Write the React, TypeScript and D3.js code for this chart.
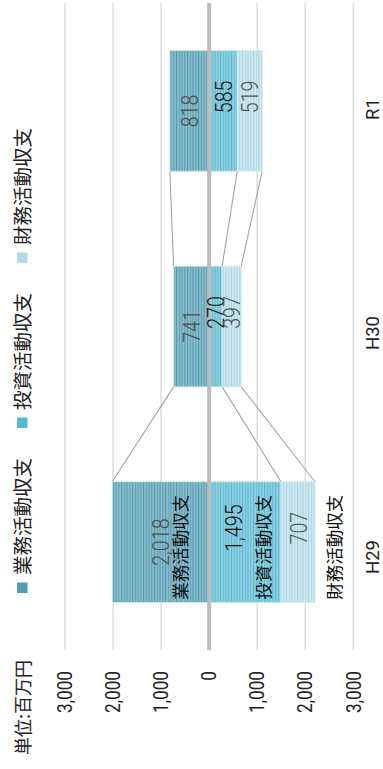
import React from "react";
import * as d3 from "d3";

const categories = ["H29", "H30", "R1"];
const operating = [2018, 741, 818];
const investing = [1495, 270, 585];
const financing = [707, 397, 519];
const seriesNames = ["業務活動収支", "投資活動収支", "財務活動収支"];
const tickValues = [-3000, -2000, -1000, 0, 1000, 2000, 3000];
const unitLabel = "単位:百万円";

const W = 769; // original (unrotated) width

const palette = [
  { base: "#74b3c6", dark: "#5797ad", light: "#98c9d6", legend: "#4f9db6" },
  { base: "#7ac9dc", dark: "#5ab8d0", light: "#a2d9e6", legend: "#55bbd5" },
  { base: "#c4e3ec", dark: "#a6d2e0", light: "#def1f6", legend: "#b3dae6" },
];

const numFont = "Roboto, 'Liberation Sans', sans-serif";
const jpFont = "'Noto Sans CJK JP', 'Noto Sans', sans-serif";
const fmt = d3.format(",");

export default function App() {
  const x = d3
    .scaleBand<string>()
    .domain(categories)
    .range([119, 766])
    .paddingInner(0.44)
    .paddingOuter(0.22);
  const catPos = d3.scalePoint<string>().domain(categories).range([212, 660]);
  const y = d3.scaleLinear().domain([-3000, 3000]).range([353.3, 65]);
  const bw = x.bandwidth();

  const stacks = categories.map((c, i) => {
    const inv = investing[i];
    const fin = financing[i];
    return [
      { y0: 0, y1: operating[i], v: operating[i] },
      { y0: 0, y1: -inv, v: inv },
      { y0: -inv, y1: -inv - fin, v: fin },
    ];
  });

  const valueColors = ["#4d4d4d", "#111", "#555"];

  return (
    <svg
      width={383}
      height={769}
      style={{ position: "absolute", left: 0, top: 0, background: "#fff" }}
    >
      <defs>
        {palette.map((p, i) => (
          <pattern
            key={i}
            id={`stripe${i}`}
            patternUnits="userSpaceOnUse"
            width={10}
            height={5.5}
          >
            <rect width={10} height={5.5} fill={p.base} />
            <rect y={0} width={10} height={0.9} fill={p.dark} />
            <rect y={1.6} width={10} height={0.9} fill={p.light} />
            <rect y={3} width={10} height={0.8} fill={p.dark} />
            <rect y={4.3} width={10} height={0.8} fill={p.light} />
          </pattern>
        ))}
      </defs>
      <g transform={`translate(0,${W}) rotate(-90)`}>
        {/* grid */}
        {tickValues
          .filter((t) => t !== 0)
          .map((t) => (
            <line
              key={t}
              x1={119}
              x2={766}
              y1={y(t)}
              y2={y(t)}
              stroke="#dedede"
              strokeWidth={1.5}
            />
          ))}
        {/* tick labels */}
        {tickValues.map((t) => (
          <g key={t} transform={`translate(98,${y(t)}) scale(0.86,1)`}>
            <text
              textAnchor="end"
              dy="0.36em"
              fontFamily={numFont}
              fontSize={20}
              fill="#222"
            >
              {fmt(Math.abs(t))}
            </text>
          </g>
        ))}
        <text
          x={14}
          y={24}
          dy="0.36em"
          fontFamily={jpFont}
          fontSize={18}
          fill="#222"
        >
          {unitLabel}
        </text>
        {/* legend */}
        {seriesNames.map((n, i) => (
          <g key={n} transform={`translate(${176 + i * 165},0)`}>
            <rect x={0} y={17} width={10.5} height={10.5} fill={palette[i].legend} />
            <text
              x={18}
              y={22.5}
              dy="0.36em"
              fontFamily={jpFont}
              fontSize={19.5}
              fill="#222"
            >
              {n}
            </text>
          </g>
        ))}
        {/* connectors */}
        {categories.slice(0, -1).map((c, i) =>
          stacks[i].map((s, k) => (
            <line
              key={`${c}-${k}`}
              x1={(x(c) as number) + bw}
              x2={x(categories[i + 1]) as number}
              y1={y(s.y1)}
              y2={y(stacks[i + 1][k].y1)}
              stroke="#a3a3a3"
              strokeWidth={1.1}
            />
          ))
        )}
        {/* bars */}
        {categories.map((c, i) =>
          stacks[i].map((s, k) => (
            <rect
              key={`${c}-${k}`}
              x={x(c)}
              width={bw}
              y={Math.min(y(s.y0), y(s.y1))}
              height={Math.abs(y(s.y0) - y(s.y1))}
              fill={`url(#stripe${k})`}
              stroke="#cdeef5"
              strokeWidth={0.8}
            />
          ))
        )}
        {/* zero line */}
        <line
          x1={119}
          x2={766}
          y1={y(0)}
          y2={y(0)}
          stroke="#bdbdbd"
          strokeWidth={4}
        />
        {/* value labels */}
        {categories.map((c, i) =>
          stacks[i].map((s, k) => {
            const cx = (x(c) as number) + bw / 2 + (k === 0 ? 0 : 14);
            let cy = (y(s.y0) + y(s.y1)) / 2;
            if (i === 0 && k === 1) cy -= 11.5;
            return (
              <g key={`${c}-${k}`} transform={`translate(${cx},${cy}) scale(0.82,1)`}>
                <text
                  textAnchor="middle"
                  dy="0.36em"
                  fontFamily={numFont}
                  fontWeight={300}
                  fontSize={24}
                  fill={valueColors[k]}
                >
                  {fmt(s.v)}
                </text>
              </g>
            );
          })
        )}
        {/* series name labels on first bar */}
        {stacks[0].map((s, k) => {
          const cx = (x(categories[0]) as number) + bw / 2 - 5;
          const cy =
            k === 2
              ? y(s.y1) + 20
              : (y(s.y0) + y(s.y1)) / 2 + (k === 0 ? 20.5 : 19);
          return (
            <text
              key={k}
              x={cx}
              y={cy}
              dy="0.36em"
              textAnchor="middle"
              fontFamily={jpFont}
              fontSize={17.5}
              fill="#111"
            >
              {seriesNames[k]}
            </text>
          );
        })}
        {/* category labels */}
        {categories.map((c) => (
          <text
            key={c}
            x={catPos(c)}
            y={372}
            dy="0.36em"
            textAnchor="middle"
            fontFamily={numFont}
            fontSize={18.5}
            fill="#222"
          >
            {c}
          </text>
        ))}
      </g>
    </svg>
  );
}
